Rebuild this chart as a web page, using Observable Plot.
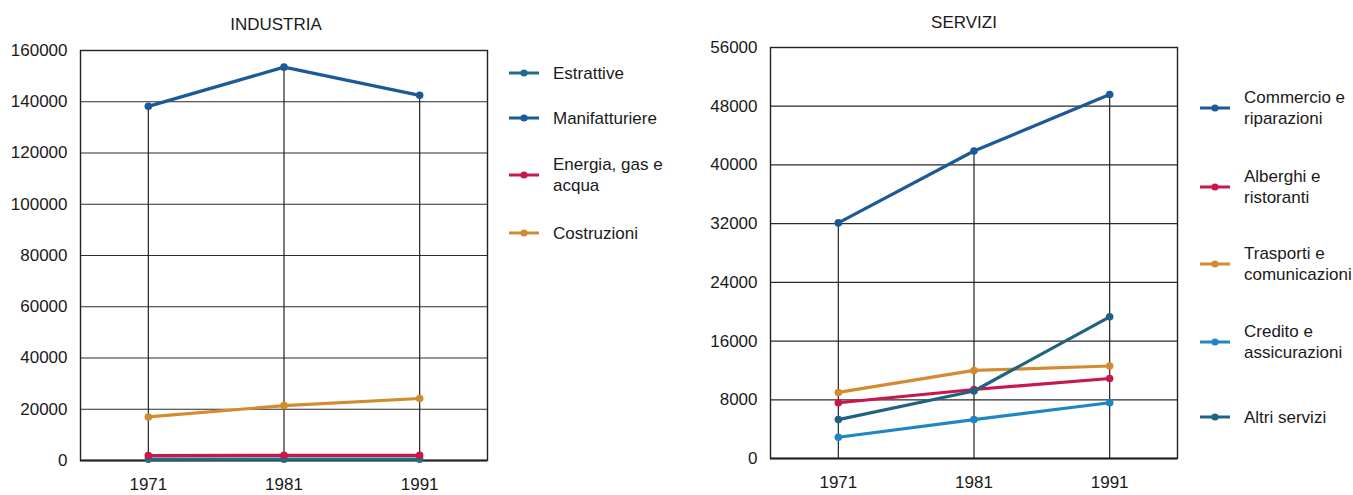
<!DOCTYPE html>
<html>
<head>
<meta charset="utf-8">
<script src="https://cdn.jsdelivr.net/npm/d3@7"></script>
<script src="https://cdn.jsdelivr.net/npm/@observablehq/plot@0.6"></script>
<style>
  html, body { margin: 0; padding: 0; background: #ffffff; }
  #root { position: relative; width: 1353px; height: 495px; overflow: hidden;
          font-family: "Liberation Sans", Arial, sans-serif; font-size: 17px; color: #1a1a1a; }
  .chart { position: absolute; top: 0; }
  .title { position: absolute; font-size: 17px; color: #1a1a1a; text-align: center; }
  .item { position: absolute; display: flex; align-items: center; white-space: nowrap; font-size: 17px; line-height: 21px; }
  .item svg { flex: none; margin-right: 14px; }
</style>
</head>
<body>
<div id="root"></div>
<script>
// ---- data ----
const years = [1971, 1981, 1991];

const industriaNames = ["Estrattive", "Manifatturiere", "Energia, gas e acqua", "Costruzioni"];
const estrattive = [500, 500, 500];
const manifatturiere = [138200, 153500, 142500];
const energia = [1900, 2000, 2000];
const costruzioni = [17000, 21400, 24200];
const industriaColors = ["#1d6e88", "#1b5a98", "#c8174b", "#d38b2f"];
const industriaTicks = [0, 20000, 40000, 60000, 80000, 100000, 120000, 140000, 160000];

const serviziNames = ["Commercio e riparazioni", "Alberghi e ristoranti", "Trasporti e comunicazioni", "Credito e assicurazioni", "Altri servizi"];
const commercio = [32100, 41900, 49600];
const alberghi = [7600, 9400, 10900];
const trasporti = [9000, 12000, 12600];
const credito = [2900, 5300, 7600];
const altri = [5300, 9200, 19300];
const serviziColors = ["#1b5a98", "#c8174b", "#d38b2f", "#1f86c2", "#1e6480"];
const serviziTicks = [0, 8000, 16000, 24000, 32000, 40000, 48000, 56000];

// ---- build tables ----
function table(names, series) {
  const rows = [];
  names.forEach((n, i) => years.forEach((y, j) => rows.push({series: n, year: y, value: series[i][j]})));
  return rows;
}
const industria = table(industriaNames, [estrattive, manifatturiere, energia, costruzioni]);
const servizi = table(serviziNames, [commercio, alberghi, trasporti, credito, altri]);

const root = document.getElementById("root");
const FONT = '"Liberation Sans", Arial, sans-serif';

function makeChart({rows, names, colors, ticks, maxY, top, bottom, dropSeries}) {
  const drop = rows.filter(d => d.series === dropSeries);
  return Plot.plot({
    width: 500,
    height: 495,
    marginLeft: 80,
    marginRight: 13,
    marginTop: top,
    marginBottom: 495 - bottom,
    style: {fontFamily: FONT, fontSize: "17px", color: "#1a1a1a", background: "transparent"},
    x: {domain: [1966, 1996], ticks: years, tickFormat: d3.format("d"), tickSize: 0, tickPadding: 17, label: null},
    y: {domain: [0, maxY], ticks: ticks, tickFormat: d3.format("d"), tickSize: 0, tickPadding: 13, label: null},
    color: {domain: names, range: colors},
    marks: [
      Plot.ruleY(ticks, {stroke: "#2a2a2a", strokeWidth: 1.2}),
      Plot.ruleX(drop, {x: "year", y1: 0, y2: "value", stroke: "#222", strokeWidth: 1.2}),
      Plot.frame({stroke: "#222", strokeWidth: 1.4}),
      Plot.ruleY([0], {stroke: "#222", strokeWidth: 2}),
      Plot.line(rows, {x: "year", y: "value", z: "series", stroke: "series", strokeWidth: 3.2}),
      Plot.dot(rows, {x: "year", y: "value", fill: "series", r: 3.8})
    ]
  });
}

const left = makeChart({rows: industria, names: industriaNames, colors: industriaColors,
  ticks: industriaTicks, maxY: 160000, top: 50, bottom: 460, dropSeries: "Manifatturiere"});
left.classList.add("chart");
left.style.left = "0px";
root.appendChild(left);

const right = makeChart({rows: servizi, names: serviziNames, colors: serviziColors,
  ticks: serviziTicks, maxY: 56000, top: 47, bottom: 458, dropSeries: "Commercio e riparazioni"});
right.classList.add("chart");
right.style.left = "690px";
root.appendChild(right);

// ---- titles ----
function title(text, cx, y) {
  const d = document.createElement("div");
  d.className = "title";
  d.textContent = text;
  d.style.left = (cx - 100) + "px";
  d.style.width = "200px";
  d.style.top = y + "px";
  root.appendChild(d);
}
title("INDUSTRIA", 276, 15);
title("SERVIZI", 964, 13);

// ---- legends ----
function swatch(color) {
  const ns = "http://www.w3.org/2000/svg";
  const s = document.createElementNS(ns, "svg");
  s.setAttribute("width", 30); s.setAttribute("height", 10);
  const l = document.createElementNS(ns, "line");
  l.setAttribute("x1", 0); l.setAttribute("x2", 30); l.setAttribute("y1", 5); l.setAttribute("y2", 5);
  l.setAttribute("stroke", color); l.setAttribute("stroke-width", 3);
  const c = document.createElementNS(ns, "circle");
  c.setAttribute("cx", 15); c.setAttribute("cy", 5); c.setAttribute("r", 3.6); c.setAttribute("fill", color);
  s.appendChild(l); s.appendChild(c);
  return s;
}
function legend(x, items) {
  items.forEach(([label, color, cy]) => {
    const it = document.createElement("div");
    it.className = "item";
    it.style.left = x + "px";
    const lines = label.split("\n");
    const h = lines.length * 21;
    it.style.top = (cy - h / 2) + "px";
    it.appendChild(swatch(color));
    const t = document.createElement("div");
    t.innerHTML = lines.join("<br>");
    it.appendChild(t);
    root.appendChild(it);
  });
}
legend(509, [
  ["Estrattive", industriaColors[0], 73],
  ["Manifatturiere", industriaColors[1], 118],
  ["Energia, gas e\nacqua", industriaColors[2], 175],
  ["Costruzioni", industriaColors[3], 233]
]);
legend(1200, [
  ["Commercio e\nriparazioni", serviziColors[0], 108],
  ["Alberghi e\nristoranti", serviziColors[1], 187],
  ["Trasporti e\ncomunicazioni", serviziColors[2], 264],
  ["Credito e\nassicurazioni", serviziColors[3], 342],
  ["Altri servizi", serviziColors[4], 417]
]);
</script>
</body>
</html>
